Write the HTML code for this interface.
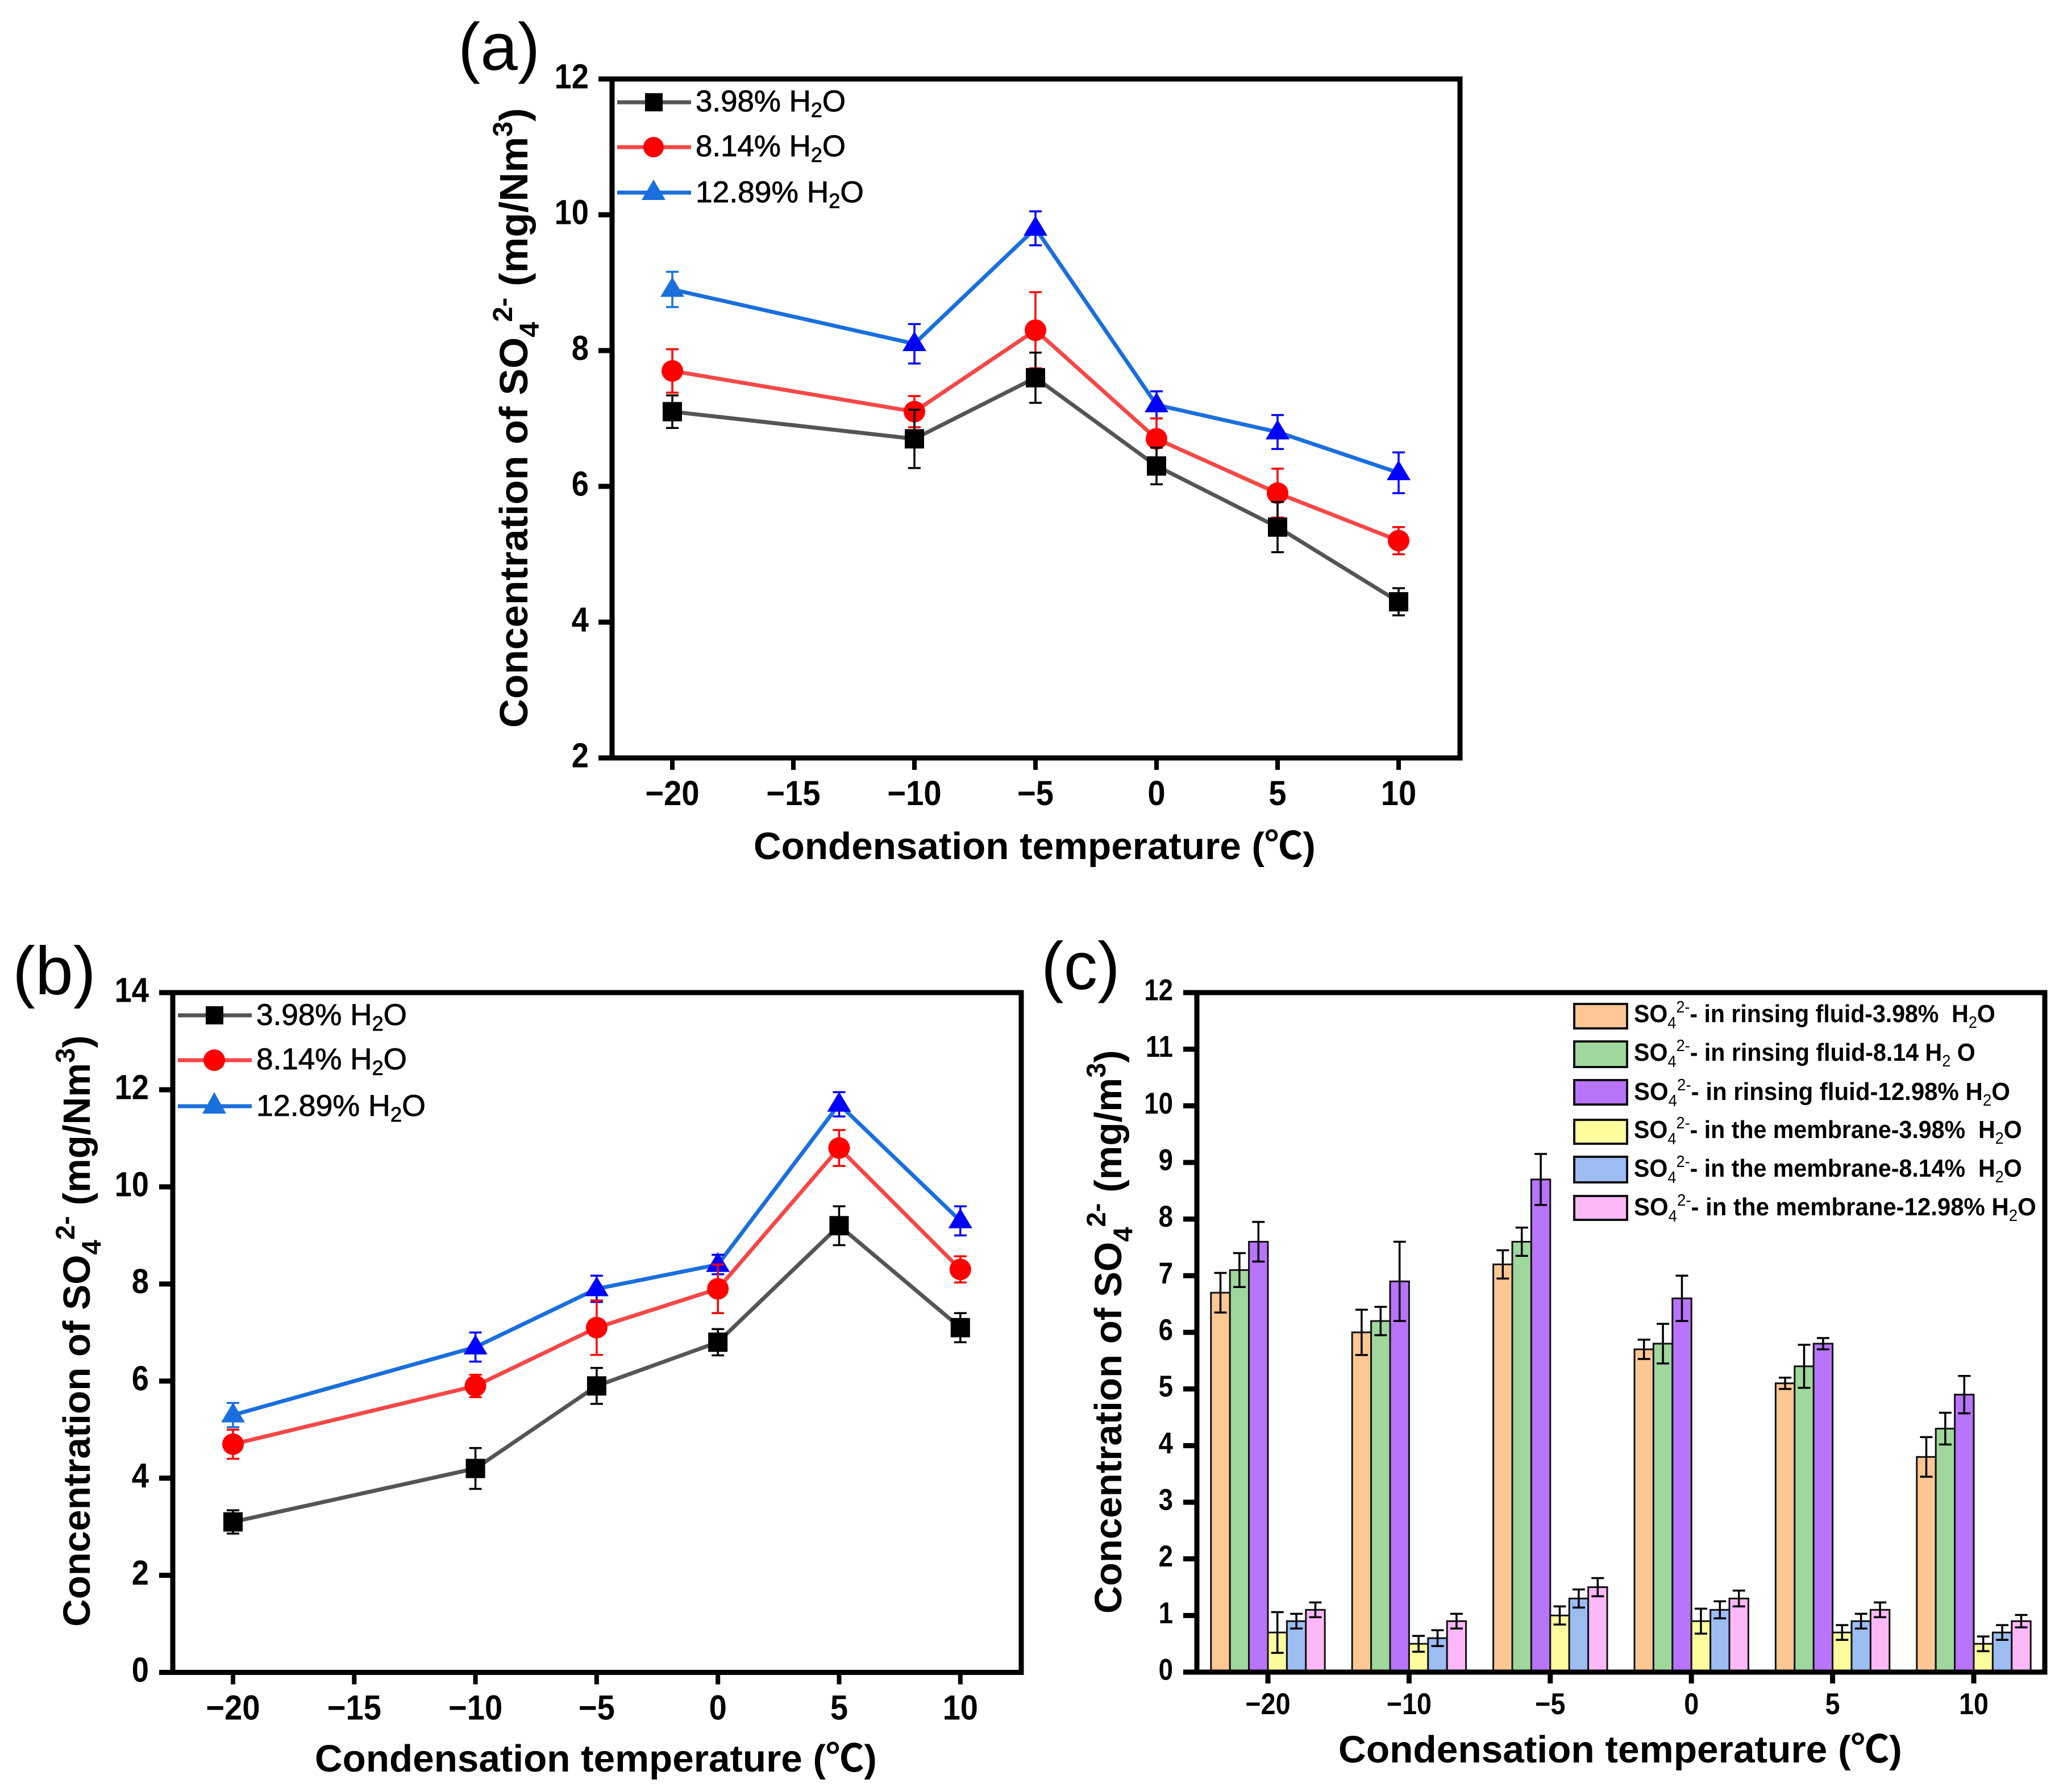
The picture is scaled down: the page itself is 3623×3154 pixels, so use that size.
<!DOCTYPE html>
<html lang="en">
<head>
<meta charset="utf-8">
<title>Concentration of SO4 2- versus condensation temperature</title>
<style>
html,body{margin:0;padding:0;background:#fff;}
svg{display:block;}
text{font-family:"Liberation Sans","Noto Sans CJK SC",sans-serif;fill:#000;}
.b{font-weight:bold;}
.lg{stroke:#000;stroke-width:0.8px;}
.n{font-weight:normal;}
</style>
</head>
<body>
<svg id="fig" xmlns="http://www.w3.org/2000/svg" width="3623" height="3154" viewBox="0 0 3623 3154">
<rect x="0" y="0" width="3623" height="3154" fill="#fff"/>

<!-- panel labels -->
<text x="806" y="123" font-size="118">(a)</text>
<text x="22" y="1750" font-size="120">(b)</text>
<text x="1832" y="1741" font-size="119">(c)</text>

<!-- axis titles -->
<text class="b" data-x="1326" data-y="1512" data-w="989" font-size="67">Condensation temperature (℃)</text>
<text class="b" data-x="554" data-y="3118" data-w="989" font-size="67">Condensation temperature (℃)</text>
<text class="b" data-x="2355" data-y="3102" data-w="992" font-size="67">Condensation temperature (℃)</text>

<text class="b" data-x="928" data-y="1281" data-w="1091" data-r="1" font-size="70">Concentration of SO<tspan dy="20" font-size="48">4</tspan><tspan dy="-47" font-size="48">2-</tspan><tspan dy="27"> (mg/Nm</tspan><tspan dy="-27" font-size="48">3</tspan><tspan dy="27">)</tspan></text>
<text class="b" data-x="158" data-y="2863" data-w="1041" data-r="1" font-size="67">Concentration of SO<tspan dy="19" font-size="47">4</tspan><tspan dy="-46" font-size="47">2-</tspan><tspan dy="27"> (mg/Nm</tspan><tspan dy="-27" font-size="47">3</tspan><tspan dy="27">)</tspan></text>
<text class="b" data-x="1973" data-y="2840" data-w="992" data-r="1" font-size="67">Concentration of SO<tspan dy="19" font-size="47">4</tspan><tspan dy="-47" font-size="47">2-</tspan><tspan dy="28"> (mg/m</tspan><tspan dy="-28" font-size="47">3</tspan><tspan dy="28">)</tspan></text>

<g id="panelA"></g>
<g id="panelB"></g>
<g id="panelC"></g>

<!-- legend a -->
<g>
  <g>
    <line x1="1086" x2="1216" y1="180" y2="180" stroke="#555" stroke-width="7"/>
    <rect x="1135" y="164" width="31" height="32" fill="#000"/>
    <text class="lg" data-x="1224" data-y="196" data-w="264" font-size="53">3.98% H<tspan dy="10" font-size="36">2</tspan><tspan dy="-10">O</tspan></text>
  </g>
  <g>
    <line x1="1086" x2="1216" y1="259" y2="259" stroke="#f44848" stroke-width="7"/>
    <circle cx="1150" cy="259" r="18" fill="#ff0000"/>
    <text class="lg" data-x="1224" data-y="275" data-w="264" font-size="53">8.14% H<tspan dy="10" font-size="36">2</tspan><tspan dy="-10">O</tspan></text>
  </g>
  <g>
    <line x1="1086" x2="1216" y1="339" y2="339" stroke="#1a6fdc" stroke-width="7"/>
    <polygon points="1150,316 1129,352 1171,352" fill="#1a6fdc"/>
    <text class="lg" data-x="1224" data-y="356" data-w="296" font-size="53">12.89% H<tspan dy="10" font-size="36">2</tspan><tspan dy="-10">O</tspan></text>
  </g>
</g>

<!-- legend b -->
<g>
  <g>
    <line x1="313" x2="443" y1="1787" y2="1787" stroke="#555" stroke-width="7"/>
    <rect x="362" y="1771" width="31" height="32" fill="#000"/>
    <text class="lg" data-x="451" data-y="1804" data-w="265" font-size="53">3.98% H<tspan dy="10" font-size="36">2</tspan><tspan dy="-10">O</tspan></text>
  </g>
  <g>
    <line x1="313" x2="443" y1="1866" y2="1866" stroke="#f44848" stroke-width="7"/>
    <circle cx="377" cy="1866" r="19" fill="#ff0000"/>
    <text class="lg" data-x="451" data-y="1882" data-w="265" font-size="53">8.14% H<tspan dy="10" font-size="36">2</tspan><tspan dy="-10">O</tspan></text>
  </g>
  <g>
    <line x1="313" x2="443" y1="1947" y2="1947" stroke="#1a6fdc" stroke-width="7"/>
    <polygon points="377,1922 356,1960 398,1960" fill="#1a6fdc"/>
    <text class="lg" data-x="451" data-y="1964" data-w="298" font-size="53">12.89% H<tspan dy="10" font-size="36">2</tspan><tspan dy="-10">O</tspan></text>
  </g>
</g>

<!-- legend c -->
<g>
  <g>
    <rect x="2770" y="1767" width="93" height="43" fill="#fdc794" stroke="#111" stroke-width="4"/>
    <text class="b" data-x="2875" data-y="1799" data-w="636" font-size="44">SO<tspan class="n" dy="11" font-size="29">4</tspan><tspan class="n" dy="-28" font-size="29">2-</tspan><tspan dy="17">- in rinsing fluid-3.98%&#160; H</tspan><tspan class="n" dy="10" font-size="29">2</tspan><tspan dy="-10">O</tspan></text>
  </g>
  <g>
    <rect x="2770" y="1833" width="93" height="45" fill="#9fd79c" stroke="#111" stroke-width="4"/>
    <text class="b" data-x="2875" data-y="1867" data-w="601" font-size="44">SO<tspan class="n" dy="11" font-size="29">4</tspan><tspan class="n" dy="-28" font-size="29">2-</tspan><tspan dy="17">- in rinsing fluid-8.14 H</tspan><tspan class="n" dy="10" font-size="29">2</tspan><tspan dy="-10"> O</tspan></text>
  </g>
  <g>
    <rect x="2770" y="1901" width="93" height="43" fill="#b874fb" stroke="#111" stroke-width="4"/>
    <text class="b" data-x="2875" data-y="1936" data-w="662" font-size="44">SO<tspan class="n" dy="11" font-size="29">4</tspan><tspan class="n" dy="-28" font-size="29">2-</tspan><tspan dy="17">- in rinsing fluid-12.98% H</tspan><tspan class="n" dy="10" font-size="29">2</tspan><tspan dy="-10">O</tspan></text>
  </g>
  <g>
    <rect x="2770" y="1971" width="93" height="42" fill="#fdfd9e" stroke="#111" stroke-width="4"/>
    <text class="b" data-x="2875" data-y="2003" data-w="683" font-size="44">SO<tspan class="n" dy="11" font-size="29">4</tspan><tspan class="n" dy="-28" font-size="29">2-</tspan><tspan dy="17">- in the membrane-3.98%&#160; H</tspan><tspan class="n" dy="10" font-size="29">2</tspan><tspan dy="-10">O</tspan></text>
  </g>
  <g>
    <rect x="2770" y="2036" width="93" height="45" fill="#9cbcf2" stroke="#111" stroke-width="4"/>
    <text class="b" data-x="2875" data-y="2071" data-w="683" font-size="44">SO<tspan class="n" dy="11" font-size="29">4</tspan><tspan class="n" dy="-28" font-size="29">2-</tspan><tspan dy="17">- in the membrane-8.14%&#160; H</tspan><tspan class="n" dy="10" font-size="29">2</tspan><tspan dy="-10">O</tspan></text>
  </g>
  <g>
    <rect x="2770" y="2105" width="93" height="42" fill="#fdb8f8" stroke="#111" stroke-width="4"/>
    <text class="b" data-x="2875" data-y="2139" data-w="708" font-size="44">SO<tspan class="n" dy="11" font-size="29">4</tspan><tspan class="n" dy="-28" font-size="29">2-</tspan><tspan dy="17">- in the membrane-12.98% H</tspan><tspan class="n" dy="10" font-size="29">2</tspan><tspan dy="-10">O</tspan></text>
  </g>
</g>
</svg>

<script>
// ---- shared categories and tick labels ----
const temps = [-20, -10, -5, 0, 5, 10];
const lineXTicks = [-20, -15, -10, -5, 0, 5, 10];
const aYTicks = [2, 4, 6, 8, 10, 12];
const bYTicks = [0, 2, 4, 6, 8, 10, 12, 14];
const cYTicks = [0, 1, 2, 3, 4, 5, 6, 7, 8, 9, 10, 11, 12];
const cCategories = ["-20", "-10", "-5", "0", "5", "10"];

// ---- panel (a) values ----
const aLow = [7.1, 6.7, 7.6, 6.3, 5.4, 4.3];
const aLowErr = [0.24, 0.43, 0.37, 0.27, 0.37, 0.2];
const aMid = [7.7, 7.1, 8.3, 6.7, 5.9, 5.2];
const aMidErr = [0.32, 0.23, 0.56, 0.3, 0.36, 0.2];
const aHigh = [8.9, 8.1, 9.8, 7.2, 6.8, 6.2];
const aHighErr = [0.26, 0.29, 0.25, 0.2, 0.25, 0.3];

// ---- panel (b) values ----
const bLow = [3.1, 4.2, 5.9, 6.8, 9.2, 7.1];
const bLowErr = [0.24, 0.42, 0.37, 0.27, 0.4, 0.3];
const bMid = [4.7, 5.9, 7.1, 7.9, 10.8, 8.3];
const bMidErr = [0.3, 0.23, 0.56, 0.5, 0.37, 0.27];
const bHigh = [5.3, 6.7, 7.9, 8.4, 11.7, 9.3];
const bHighErr = [0.25, 0.3, 0.27, 0.2, 0.25, 0.3];

// ---- panel (c) values, one array per series ----
const cRinseLow = [6.7, 6.0, 7.2, 5.7, 5.1, 3.8];
const cRinseLowErr = [0.35, 0.4, 0.25, 0.17, 0.1, 0.35];
const cRinseMid = [7.1, 6.2, 7.6, 5.8, 5.4, 4.3];
const cRinseMidErr = [0.3, 0.25, 0.25, 0.35, 0.38, 0.28];
const cRinseHigh = [7.6, 6.9, 8.7, 6.6, 5.8, 4.9];
const cRinseHighErr = [0.35, 0.7, 0.45, 0.4, 0.1, 0.33];
const cMemLow = [0.7, 0.5, 1.0, 0.9, 0.7, 0.5];
const cMemLowErr = [0.36, 0.14, 0.16, 0.22, 0.13, 0.13];
const cMemMid = [0.9, 0.6, 1.3, 1.1, 0.9, 0.7];
const cMemMidErr = [0.13, 0.14, 0.16, 0.15, 0.13, 0.13];
const cMemHigh = [1.1, 0.9, 1.5, 1.3, 1.1, 0.9];
const cMemHighErr = [0.13, 0.13, 0.16, 0.14, 0.13, 0.11];

// ---- axis functions ----
const xA = function (t) { return 1183 + (t + 20) * 42.6; };
const yA = function (v) { return 1334 - (v - 2) * 119.5; };
const xB = function (t) { return 410 + (t + 20) * 42.66; };
const yB = function (v) { return 2943.5 - v * 85.46; };
const xC = function (i) { return 2231 + i * 248.4; };
const yC = function (v) { return 2943 - v * 99.67; };
const barW = 33.4;

const NS = "http://www.w3.org/2000/svg";
function mk(parent, tag, attrs) {
  const el = document.createElementNS(NS, tag);
  for (const k in attrs) { el.setAttribute(k, attrs[k]); }
  parent.appendChild(el);
  return el;
}

function drawFrame(g, left, top, right, bottom) {
  const frame = mk(g, "rect", { x: left, y: top, width: right - left, height: bottom - top, fill: "none", stroke: "#000", "stroke-width": 9 });
  
  
}

function drawYAxis(g, ticks, yFn, left, labelRight, size, sx) {
  ticks.forEach(function (v) {
    const tick = mk(g, "line", { x1: left - 24, x2: left, y1: yFn(v), y2: yFn(v), stroke: "#000", "stroke-width": 9 });
    
    
    const lab = mk(g, "text", { "font-size": size, "font-weight": "bold", "text-anchor": "end",
      transform: "translate(" + labelRight + "," + (yFn(v) + size * 0.35 - 5) + ") scale(" + sx + ",1)" });
    lab.textContent = String(v);
    
    
  });
}

function drawLineXAxis(g, ticks, xFn, bottom) {
  ticks.forEach(function (t) {
    const tick = mk(g, "line", { x1: xFn(t), x2: xFn(t), y1: bottom, y2: bottom + 21, stroke: "#000", "stroke-width": 8 });
    
    
    const lab = mk(g, "text", { "font-size": 61, "font-weight": "bold", "text-anchor": "middle",
      transform: "translate(" + xFn(t) + "," + (bottom + 83) + ") scale(0.92,1)" });
    lab.textContent = String(t).replace("-", "\u2212");
    
    
  });
}

function drawError(g, x, y, yTop, yBot, color, capW, sw) {
  const p = mk(g, "path", {
    d: "M" + (x - capW / 2) + " " + yTop + "H" + (x + capW / 2) +
       "M" + x + " " + yTop + "V" + yBot +
       "M" + (x - capW / 2) + " " + yBot + "H" + (x + capW / 2),
    fill: "none", stroke: color, "stroke-width": sw });
  
  
}

function drawSeries(g, xFn, yFn, values, errs, lineColor, errColor, marker, firstColor) {
  const pts = values.map(function (v, i) { return xFn(temps[i]) + "," + yFn(v); }).join(" ");
  const line = mk(g, "polyline", { points: pts, fill: "none", stroke: lineColor, "stroke-width": 7, "stroke-linejoin": "round" });
  
  
  values.forEach(function (v, i) {
    const x = xFn(temps[i]);
    const y = yFn(v);
    const ec = (i === 0 && firstColor) ? firstColor : errColor;
    drawError(g, x, y, yFn(v + errs[i]), yFn(v - errs[i]), ec, 22, 3.5);
    let m;
    if (marker === "square") {
      m = mk(g, "rect", { x: x - 17, y: y - 17, width: 34, height: 34, fill: "#000" });
    } else if (marker === "circle") {
      m = mk(g, "circle", { cx: x, cy: y, r: 19, fill: "#ff0000" });
    } else {
      m = mk(g, "polygon", { points: x + "," + (y - 22) + " " + (x - 21) + "," + (y + 13) + " " + (x + 21) + "," + (y + 13), fill: ec });
    }
    
    
  });
}

const panelA = document.getElementById("panelA");
drawFrame(panelA, 1077, 139, 2569, 1334);
drawYAxis(panelA, aYTicks, yA, 1077, 1036, 61, 0.89);
drawLineXAxis(panelA, lineXTicks, xA, 1334);
drawSeries(panelA, xA, yA, aHigh, aHighErr, "#1a6fdc", "#0000ff", "triangle", "#1a6fdc");
drawSeries(panelA, xA, yA, aMid, aMidErr, "#f44848", "#ff0000", "circle", null);
drawSeries(panelA, xA, yA, aLow, aLowErr, "#555555", "#000000", "square", null);

const panelB = document.getElementById("panelB");
drawFrame(panelB, 304, 1747, 1797, 2943.5);
drawYAxis(panelB, bYTicks, yB, 304, 262, 61, 0.89);
drawLineXAxis(panelB, lineXTicks, xB, 2943.5);
drawSeries(panelB, xB, yB, bHigh, bHighErr, "#1a6fdc", "#0000ff", "triangle", "#1a6fdc");
drawSeries(panelB, xB, yB, bMid, bMidErr, "#f44848", "#ff0000", "circle", null);
drawSeries(panelB, xB, yB, bLow, bLowErr, "#555555", "#000000", "square", null);

const panelC = document.getElementById("panelC");
function drawBars(values, errs, slot, color) {
  values.forEach(function (v, i) {
    const x = xC(i) + (slot - 3) * barW;
    const bar = mk(panelC, "rect", { x: x, y: yC(v), width: barW, height: yC(0) - yC(v), fill: color, stroke: "#111", "stroke-width": 3 });
    
    
  });
  values.forEach(function (v, i) {
    const cx = xC(i) + (slot - 2.5) * barW;
    drawError(panelC, cx, yC(v), yC(v + errs[i]), yC(v - errs[i]), "#000", 22, 3.5);
  });
}
drawBars(cRinseLow, cRinseLowErr, 0, "#fdc794");
drawBars(cRinseMid, cRinseMidErr, 1, "#9fd79c");
drawBars(cRinseHigh, cRinseHighErr, 2, "#b874fb");
drawBars(cMemLow, cMemLowErr, 3, "#fdfd9e");
drawBars(cMemMid, cMemMidErr, 4, "#9cbcf2");
drawBars(cMemHigh, cMemHighErr, 5, "#fdb8f8");

drawFrame(panelC, 2106, 1747, 3598, 2943);
drawYAxis(panelC, cYTicks, yC, 2106, 2064, 53, 0.86);
cCategories.forEach(function (label, i) {
  const tick = mk(panelC, "line", { x1: xC(i), x2: xC(i), y1: 2943, y2: 2963, stroke: "#000", "stroke-width": 9 });
  
  
  const lab = mk(panelC, "text", { "font-size": 53, "font-weight": "bold", "text-anchor": "middle",
    transform: "translate(" + xC(i) + ",3017) scale(0.88,1)" });
  lab.textContent = label.replace("-", "\u2212");
  
  
});

// Fit static text blocks horizontally to their measured widths in the figure.
document.querySelectorAll("text[data-w]").forEach(function (t) {
  const w = parseFloat(t.getAttribute("data-w"));
  const natural = t.getComputedTextLength();
  const sx = natural > 0 ? w / natural : 1;
  const r = t.getAttribute("data-r") ? " rotate(-90)" : "";
  t.setAttribute("transform", "translate(" + t.getAttribute("data-x") + "," + t.getAttribute("data-y") + ")" + r + " scale(" + sx + ",1)");
});
</script>
</body>
</html>
